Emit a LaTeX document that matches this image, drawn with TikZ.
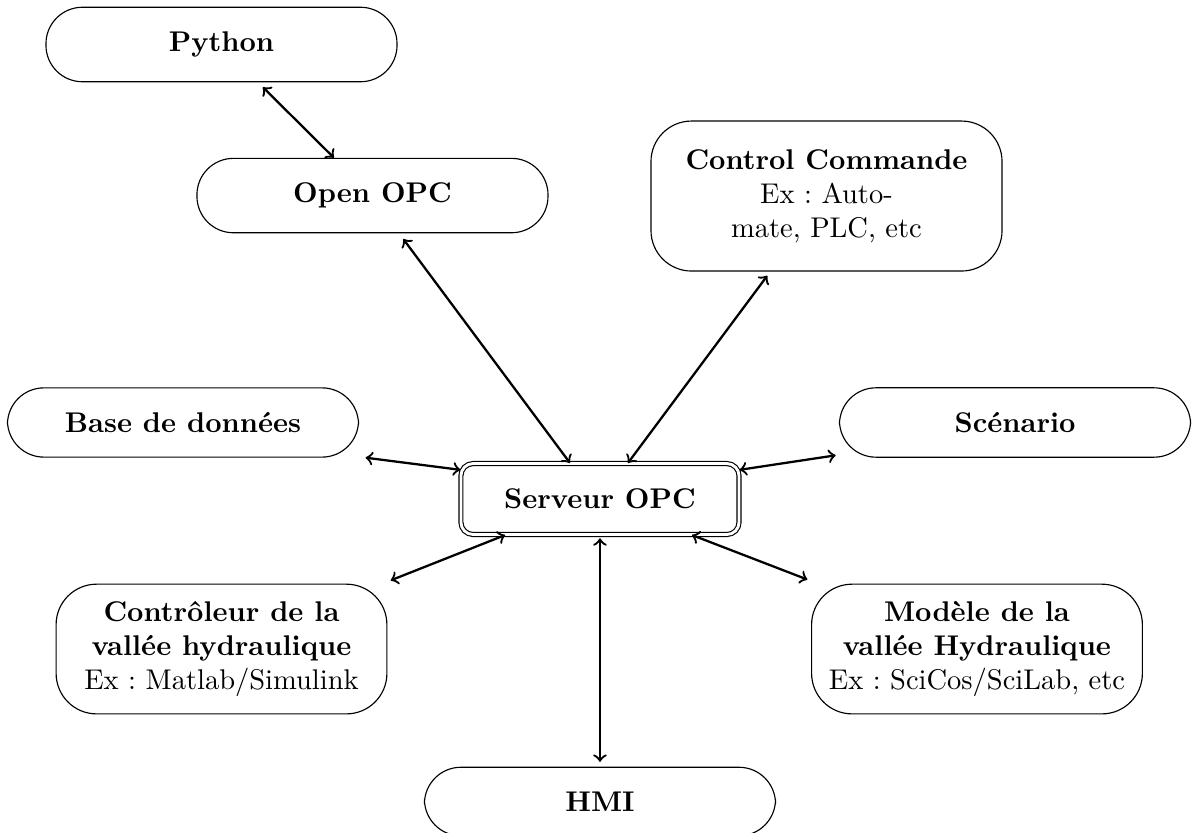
\documentclass[tikz,border=0pt]{standalone}
\frenchspacing

\begin{document}
\begin{tikzpicture}[
  pill/.style={rectangle,draw=black,thin,rounded corners=4.5mm,minimum width=4.33cm,inner ysep=8.6pt,font=\bfseries},
  info/.style={rectangle,draw=black,thin,rounded corners=5mm,align=center},
  srv/.style={rectangle,draw=black,thin,double,double distance=1pt,rounded corners=1.5mm,minimum width=3.43cm,minimum height=0.875cm,font=\bfseries},
  e/.style={<->,thick}]
  \useasboundingbox (-7.40,-4.119) rectangle (7.388,6.155);
  % the server in the middle and the clients around it
  \coordinate (pS) at (0,0);
  \coordinate (pP) at (-4.668,5.606);
  \coordinate (pO) at (-2.806,3.743);
  \coordinate (pC) at (2.794,3.737);
  \coordinate (pB) at (-5.143,0.944);
  \coordinate (pN) at (5.119,0.944);
  \coordinate (pR) at (-4.668,-1.850);
  \coordinate (pM) at (4.650,-1.850);
  \coordinate (pH) at (0,-3.731);
  % nodes
  \node[srv]  (srv) at (pS) {Serveur OPC};
  \node[pill] (py)  at (pP) {Python};
  \node[pill] (oo)  at (pO) {Open OPC};
  \node[info,minimum width=4.33cm,minimum height=1.85cm] (cc) at (pC)
    {\textbf{Control Commande}\\Ex : Auto-\\mate, PLC, etc};
  \node[pill] (db)  at (pB) {Base de données};
  \node[pill] (sc)  at (pN) {Scénario};
  \node[info,minimum width=4.08cm,minimum height=1.6cm] (ctl) at (pR)
    {\textbf{Contrôleur de la}\\\textbf{vallée hydraulique}\\Ex : Matlab/Simulink};
  \node[info,minimum width=4.08cm,minimum height=1.6cm] (mod) at (pM)
    {\textbf{Modèle de la}\\\textbf{vallée Hydraulique}\\Ex : SciCos/SciLab, etc};
  \node[pill] (hmi) at (pH) {HMI};
  % links
  \draw[e] ([xshift=5.1mm,yshift=-0.6mm]py.south) -- ([xshift=-4.75mm]oo.north);
  \draw[e] ([xshift=3.8mm,yshift=-0.7mm]oo.south) -- ([xshift=-3.7mm]srv.north);
  \draw[e] ([xshift=-7.3mm,yshift=-0.5mm]cc.south) -- ([xshift=3.45mm]srv.north);
  \draw[e] ([xshift=0.8mm]db.south east) -- ([yshift=3.6mm]srv.west);
  \draw[e] ([yshift=3.6mm]srv.east) -- ([xshift=-0.4mm,yshift=0.3mm]sc.south west);
  \draw[e] ([xshift=0.4mm,yshift=0.4mm]ctl.north east) -- ([xshift=-11.7mm]srv.south);
  \draw[e] ([xshift=11.35mm]srv.south) -- ([xshift=-0.45mm,yshift=0.5mm]mod.north west);
  \draw[e] ([yshift=-0.4mm]srv.south) -- ([yshift=0.6mm]hmi.north);
\end{tikzpicture}
\end{document}
